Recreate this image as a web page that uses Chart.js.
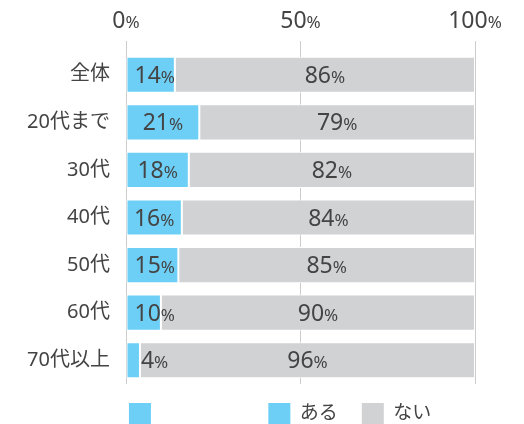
<!DOCTYPE html>
<html lang="ja">
<head>
<meta charset="UTF-8">
<title>ある・ない</title>
<script src="https://cdn.jsdelivr.net/npm/chart.js"></script>
<style>
  body { margin: 0; background: #fff; }
  #wrap { width: 524px; height: 424px; }
</style>
</head>
<body>
<div id="wrap"><canvas id="chart"></canvas></div>
<script>
  // データ
  const categories = ['全体', '20代まで', '30代', '40代', '50代', '60代', '70代以上'];
  const aru = [14, 21, 18, 16, 15, 10, 4];
  const nai = [86, 79, 82, 84, 85, 90, 96];
  const xTicks = [0, 50, 100];

  const BLUE = '#6dcff6';
  const GRAY = '#d1d2d4';
  const TEXT = '#444444';
  const FONT = "'Noto Sans', 'Noto Sans CJK JP', sans-serif";

  Chart.defaults.font.family = FONT;
  Chart.defaults.color = TEXT;

  // 数字は大きく、% は小さく描く
  function pctWidth(ctx, num, bigSize, smallSize) {
    ctx.font = bigSize + 'px ' + FONT;
    const w1 = ctx.measureText(num).width;
    ctx.font = smallSize + 'px ' + FONT;
    return w1 + ctx.measureText('%').width;
  }

  function drawPct(ctx, num, x, y, bigSize, smallSize, align) {
    const w = pctWidth(ctx, num, bigSize, smallSize);
    const left = align === 'left' ? x : x - w / 2;
    ctx.textAlign = 'left';
    ctx.textBaseline = 'alphabetic';
    ctx.fillStyle = TEXT;
    ctx.font = bigSize + 'px ' + FONT;
    const w1 = ctx.measureText(num).width;
    ctx.fillText(num, left, y);
    ctx.font = smallSize + 'px ' + FONT;
    ctx.fillText('%', left + w1, y);
  }

  const labelPlugin = {
    id: 'pctLabels',
    afterDraw(chart) {
      const ctx = chart.ctx;
      ctx.save();
      // 上の目盛りラベル
      const xs = chart.scales.x;
      xTicks.forEach(v => {
        drawPct(ctx, String(v), xs.getPixelForValue(v), 28, 23, 17, 'center');
      });
      // バーの中のラベル
      chart.data.datasets.forEach((ds, di) => {
        const meta = chart.getDatasetMeta(di);
        meta.data.forEach((bar, i) => {
          const num = String(ds.data[i]);
          const start = Math.min(bar.base, bar.x);
          const end = Math.max(bar.base, bar.x);
          const bw = end - start;
          const w = pctWidth(ctx, num, 23, 17);
          const y = bar.y + 8;
          if (w + 12 <= bw) {
            drawPct(ctx, num, (start + end) / 2, y, 23, 17, 'center');
          } else if (bw < 20) {
            drawPct(ctx, num, end + 1, y, 23, 17, 'left');
          } else {
            drawPct(ctx, num, start + 8, y, 23, 17, 'left');
          }
        });
      });
      ctx.restore();
    }
  };

  new Chart(document.getElementById('chart'), {
    type: 'bar',
    data: {
      labels: categories,
      datasets: [
        {
          label: 'ある',
          data: aru,
          backgroundColor: BLUE,
          borderColor: '#ffffff',
          borderWidth: 1,
          borderSkipped: false,
          barPercentage: 0.76,
          categoryPercentage: 1
        },
        {
          label: 'ない',
          data: nai,
          backgroundColor: GRAY,
          borderColor: '#ffffff',
          borderWidth: 1,
          borderSkipped: false,
          barPercentage: 0.76,
          categoryPercentage: 1
        }
      ]
    },
    options: {
      indexAxis: 'y',
      responsive: true,
      maintainAspectRatio: false,
      animation: false,
      layout: { padding: { top: 0, right: 49, bottom: -10, left: 0 } },
      scales: {
        x: {
          position: 'top',
          stacked: true,
          min: 0,
          max: 100,
          ticks: { display: false, stepSize: 50 },
          grid: { color: '#cccccc', lineWidth: 1, tickLength: 10, drawTicks: true },
          border: { display: false },
          afterFit(scale) { scale.height = 51; }
        },
        y: {
          stacked: true,
          grid: { display: false },
          border: { display: false },
          ticks: { color: TEXT, font: { size: 20 }, padding: 8 },
          afterFit(scale) { scale.width = 126; }
        }
      },
      plugins: {
        tooltip: { enabled: false },
        legend: {
          position: 'bottom',
          align: 'end',
          onClick: () => {},
          labels: {
            boxWidth: 22,
            boxHeight: 21,
            padding: 19,
            font: { size: 19 },
            color: TEXT,
            generateLabels() {
              return [
                { text: '                  ', fillStyle: BLUE, strokeStyle: BLUE, lineWidth: 0, fontColor: TEXT, hidden: false },
                { text: 'ある ', fillStyle: BLUE, strokeStyle: BLUE, lineWidth: 0, fontColor: TEXT, hidden: false, datasetIndex: 0 },
                { text: 'ない     ', fillStyle: GRAY, strokeStyle: GRAY, lineWidth: 0, fontColor: TEXT, hidden: false, datasetIndex: 1 }
              ];
            }
          }
        }
      }
    },
    plugins: [labelPlugin]
  });
</script>
</body>
</html>
